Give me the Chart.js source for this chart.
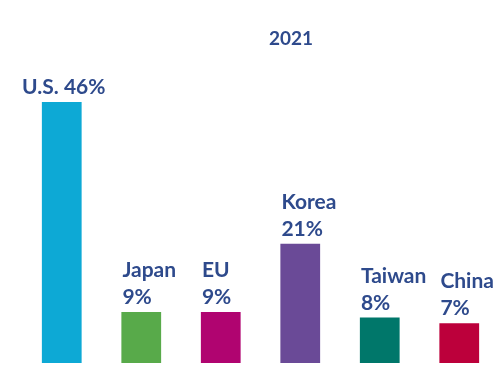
<!DOCTYPE html>
<html>
<head>
<meta charset="utf-8">
<script src="https://cdn.jsdelivr.net/npm/chart.js@4"></script>
<style>
  html, body { margin: 0; padding: 0; background: #fff; }
  #wrap { width: 500px; height: 385px; }
</style>
</head>
<body>
<div id="wrap"><canvas id="chart"></canvas></div>
<script>
const chartTitle = '2021';
const categories = ['U.S.', 'Japan', 'EU', 'Korea', 'Taiwan', 'China'];
const shares = [46, 9, 9, 21, 8, 7];
const barColors = ['#0DA9D5', '#58AA4A', '#B00470', '#6A4A97', '#00776A', '#BC003B'];

const textColor = '#2E4A8C';
const labelFont = 'bold 21px Lato, "Open Sans", sans-serif';

// labels above bars + title
const labelPlugin = {
  id: 'barLabels',
  afterDatasetsDraw(chart) {
    const ctx = chart.ctx;
    const meta = chart.getDatasetMeta(0);
    ctx.save();
    ctx.fillStyle = textColor;
    ctx.font = labelFont;
    ctx.textBaseline = 'alphabetic';
    meta.data.forEach(function(bar, i) {
      const pct = shares[i] + '%';
      const top = bar.y - 8;
      if (i === 0) {
        ctx.textAlign = 'center';
        ctx.fillText(categories[i] + ' ' + pct, bar.x + 2, top);
      } else {
        ctx.textAlign = 'left';
        const left = bar.x - bar.width / 2 + 1;
        ctx.fillText(pct, left, top);
        ctx.fillText(categories[i], left, top - 27);
      }
    });
    ctx.font = 'bold 19px Lato, "Open Sans", sans-serif';
    ctx.textAlign = 'center';
    ctx.fillText(chartTitle, 291, 45);
    ctx.restore();
  }
};

new Chart(document.getElementById('chart').getContext('2d'), {
  type: 'bar',
  data: {
    labels: categories,
    datasets: [{
      data: shares,
      backgroundColor: barColors,
      borderWidth: 0,
      barPercentage: 0.5,
      categoryPercentage: 1
    }]
  },
  options: {
    responsive: true,
    maintainAspectRatio: false,
    animation: false,
    layout: { padding: { top: 68, bottom: 22, left: 22, right: 1 } },
    plugins: {
      legend: { display: false },
      tooltip: { enabled: false },
      title: { display: false }
    },
    scales: {
      x: { display: false },
      y: { display: false, min: 0, max: 52 }
    }
  },
  plugins: [labelPlugin]
});
</script>
</body>
</html>
